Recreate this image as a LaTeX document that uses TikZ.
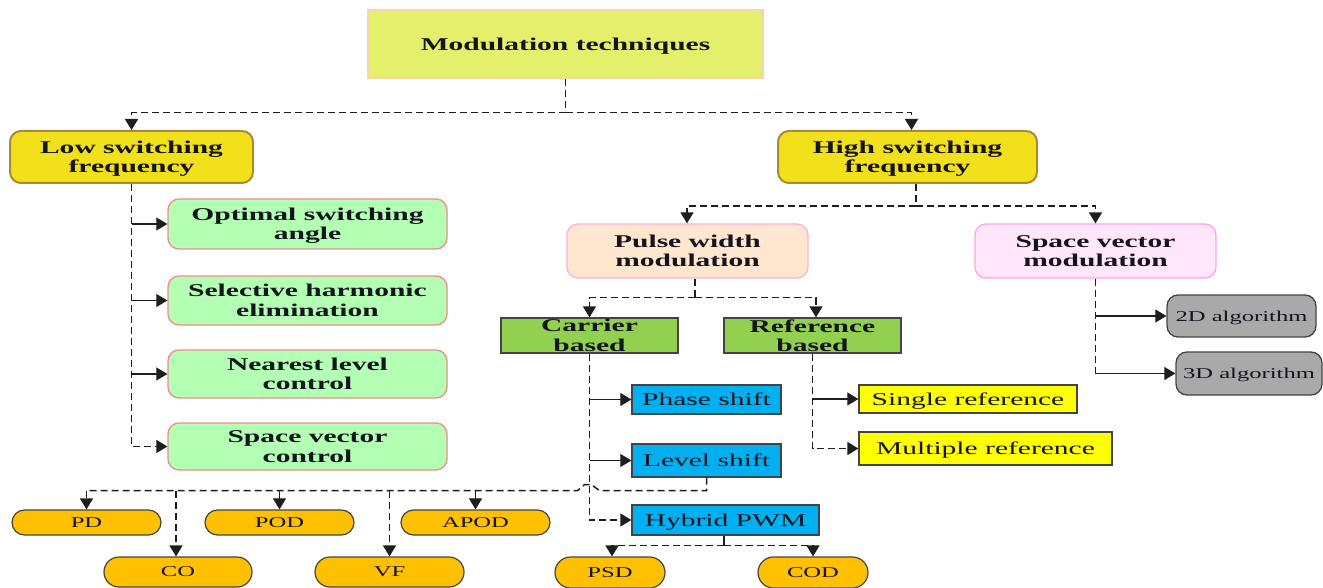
\documentclass[tikz,border=0pt]{standalone}
\usepackage{fontspec}
\setmainfont{Liberation Serif}[FakeStretch=1.64]
\usetikzlibrary{arrows.meta,calc}

\definecolor{txt}{HTML}{14141E}
\definecolor{ln}{HTML}{1E1E1E}
\definecolor{topfill}{HTML}{E4EF6C}
\definecolor{topedge}{HTML}{F6D6A6}
\definecolor{goldfill}{HTML}{F2E11A}
\definecolor{goldedge}{HTML}{A8893A}
\definecolor{mintfill}{HTML}{B3FFB3}
\definecolor{mintedge}{HTML}{F08C8C}
\definecolor{peachfill}{HTML}{FFE6CF}
\definecolor{peachedge}{HTML}{FFB0DA}
\definecolor{pinkfill}{HTML}{FFE6FA}
\definecolor{pinkedge}{HTML}{FFA3E6}
\definecolor{leaffill}{HTML}{92D050}
\definecolor{skyfill}{HTML}{00B0F0}
\definecolor{lemonfill}{HTML}{FFFF00}
\definecolor{greyfill}{HTML}{A9A9A9}
\definecolor{amberfill}{HTML}{FFC000}
\definecolor{darkedge}{HTML}{444444}

\tikzset{
  base/.style={draw, align=center, inner sep=0pt, text=txt, text depth=0pt,
    font=\fontsize{18}{19.5}\selectfont},
  boldbase/.style={base, font=\fontsize{18}{19.5}\selectfont\bfseries},
  titlebox/.style={boldbase, fill=topfill, draw=topedge, line width=1.2pt},
  goldbox/.style={boldbase, fill=goldfill, draw=goldedge, line width=2pt, rounded corners=11pt},
  mintbox/.style={boldbase, fill=mintfill, draw=mintedge, line width=1.3pt, rounded corners=11pt},
  peachbox/.style={boldbase, fill=peachfill, draw=peachedge, line width=1.3pt, rounded corners=11pt},
  pinkbox/.style={boldbase, fill=pinkfill, draw=pinkedge, line width=1.3pt, rounded corners=11pt},
  leafbox/.style={boldbase, fill=leaffill, draw=darkedge, line width=1.3pt},
  skybox/.style={base, fill=skyfill, draw=darkedge, line width=1.3pt},
  lemonbox/.style={base, fill=lemonfill, draw=darkedge, line width=1.3pt},
  greybox/.style={base, fill=greyfill, draw=darkedge, line width=1.3pt, rounded corners=11pt,
    font=\fontsize{15}{16}\selectfont},
  pill/.style={base, fill=amberfill, draw=darkedge, line width=1.2pt,
    font=\fontsize{15}{16}\selectfont},
  dl/.style={draw=ln, line width=1.5pt, dash pattern=on 7pt off 4pt},
  sl/.style={draw=ln, line width=1.1pt},
  tip/.style={-{Triangle[length=11pt,width=13pt]}},
}

\begin{document}
\begin{tikzpicture}[x=1pt, y=-1pt]
\fill[white] (0,0) rectangle (1323,588);
\useasboundingbox (0,0) rectangle (1323,588);

% root and the two frequency families
\node[titlebox, minimum width=395pt, minimum height=68pt] (mt) at (565.5,44) {Modulation techniques};
\node[goldbox, minimum width=243pt, minimum height=52pt] (low) at (131.5,157) {Low switching\\frequency};
\node[goldbox, minimum width=259pt, minimum height=52pt] (high) at (907.5,157) {High switching\\frequency};

% low switching frequency methods
\node[mintbox, minimum width=279pt, minimum height=50pt] (opt) at (307.5,224) {Optimal switching\\angle};
\node[mintbox, minimum width=279pt, minimum height=49pt] (she) at (307.5,300.5) {Selective harmonic\\elimination};
\node[mintbox, minimum width=279pt, minimum height=48pt] (nlc) at (307.5,374) {Nearest level\\control};
\node[mintbox, minimum width=279pt, minimum height=47pt] (svc) at (307.5,446.5) {Space vector\\control};

% high switching frequency methods
\node[peachbox, minimum width=241pt, minimum height=54pt] (pwm) at (687.5,251) {Pulse width\\modulation};
\node[pinkbox, minimum width=241pt, minimum height=54pt] (svm) at (1095.5,251) {Space vector\\modulation};

% PWM families
\node[leafbox, minimum width=177pt, minimum height=35pt] (cb) at (589.5,335.5) {Carrier\\based};
\node[leafbox, minimum width=177pt, minimum height=35pt] (rb) at (812.5,335.5) {Reference\\based};

\node[skybox, minimum width=149pt, minimum height=29pt] (ps) at (706.5,399.5) {Phase shift};
\node[skybox, minimum width=149pt, minimum height=33pt] (ls) at (706.5,460.5) {Level shift};
\node[skybox, minimum width=187pt, minimum height=30pt] (hp) at (725.5,520) {Hybrid PWM};

\node[lemonbox, minimum width=218pt, minimum height=28pt] (sr) at (968,399) {Single reference};
\node[lemonbox, minimum width=253pt, minimum height=33pt] (mr) at (985.5,448.5) {Multiple reference};

% SVM algorithms
\node[greybox, minimum width=149pt, minimum height=42pt] (a2) at (1241.5,316) {2D algorithm};
\node[greybox, minimum width=146pt, minimum height=43pt] (a3) at (1249,373.5) {3D algorithm};

% level shift variants
\node[pill, minimum width=149pt, minimum height=25pt, rounded corners=12.5pt] (pd) at (86.5,522.5) {PD};
\node[pill, minimum width=149pt, minimum height=25pt, rounded corners=12.5pt] (pod) at (279.5,522.5) {POD};
\node[pill, minimum width=149pt, minimum height=25pt, rounded corners=12.5pt] (apod) at (475.5,522.5) {APOD};
\node[pill, minimum width=148pt, minimum height=30pt, rounded corners=15pt] (co) at (178,572) {CO};
\node[pill, minimum width=149pt, minimum height=30pt, rounded corners=15pt] (vf) at (389.5,572) {VF};

% hybrid variants
\node[pill, minimum width=110pt, minimum height=31pt, rounded corners=15.5pt] (psd) at (610,572.5) {PSD};
\node[pill, minimum width=110pt, minimum height=31pt, rounded corners=15.5pt] (cod) at (813,572.5) {COD};

% root split
\coordinate (j1) at ($(mt.south)+(0,34)$);
\draw[dl] (mt.south) -- (j1);
\draw[dl, tip] (j1) -| (low.north);
\draw[dl, tip] (j1) -| ([xshift=4pt]high.north);

% high frequency split
\coordinate (j2) at ($([xshift=8.5pt]high.south)+(0,22)$);
\draw[dl] ([xshift=8.5pt]high.south) -- (j2);
\draw[dl, tip] (j2) -| ([xshift=-0.5pt]pwm.north);
\draw[dl, tip] (j2) -| (svm.north);

% low frequency spine
\draw[dl, tip] (low.south) |- (svc.west);
\draw[sl, tip] (low.south |- opt.west) -- (opt.west);
\draw[sl, tip] (low.south |- she.west) -- (she.west);
\draw[sl, tip] (low.south |- nlc.west) -- (nlc.west);

% PWM split
\coordinate (j3) at ($([xshift=7.5pt]pwm.south)+(0,19)$);
\draw[dl] ([xshift=7.5pt]pwm.south) -- (j3);
\draw[dl, tip] (j3) -| (cb.north);
\draw[dl, tip] (j3) -| ([xshift=3.5pt]rb.north);

% carrier based spine
\draw[dl, tip] (cb.south) |- (hp.west);
\draw[sl, tip] (cb.south |- ps.west) -- (ps.west);
\draw[sl, tip] (cb.south |- ls.west) -- (ls.west);

% reference based spine
\draw[dl, tip] (rb.south) |- (mr.west);
\draw[sl, tip] (rb.south |- sr.west) -- (sr.west);

% SVM spine
\draw[dl] (svm.south) -- (svm.south |- a3.west);
\draw[sl, tip] (svm.south |- a2.west) -- (a2.west);
\draw[sl, tip] (svm.south |- a3.west) -- (a3.west);

% level shift fan-out, hopping over the carrier spine
\coordinate (j5) at ($(ls.south)+(0,13)$);
\coordinate (hop) at (cb.south |- j5);
\draw[dl] (ls.south) -- (j5) -- ([xshift=10pt]hop) -- ([xshift=2pt,yshift=6pt]hop)
  -- ([xshift=-5pt,yshift=6pt]hop) -- ([xshift=-12pt]hop) -- (pd.north |- j5);
\draw[dl, tip] (pd.north |- j5) -- (pd.north);
\draw[sl, tip] (pod.north |- j5) -- (pod.north);
\draw[sl, tip] (apod.north |- j5) -- (apod.north);
\draw[dl, tip] ([xshift=-2pt]co.north |- j5) -- ([xshift=-2pt]co.north);
\draw[dl, tip] (vf.north |- j5) -- (vf.north);

% hybrid fan-out
\coordinate (j6) at ($([xshift=-1.5pt]hp.south)+(0,10)$);
\draw[sl] ([xshift=-1.5pt]hp.south) -- (j6);
\draw[dl, tip] (j6) -| ([xshift=2pt]psd.north);
\draw[dl, tip] (j6) -| (cod.north);
\end{tikzpicture}
\end{document}
